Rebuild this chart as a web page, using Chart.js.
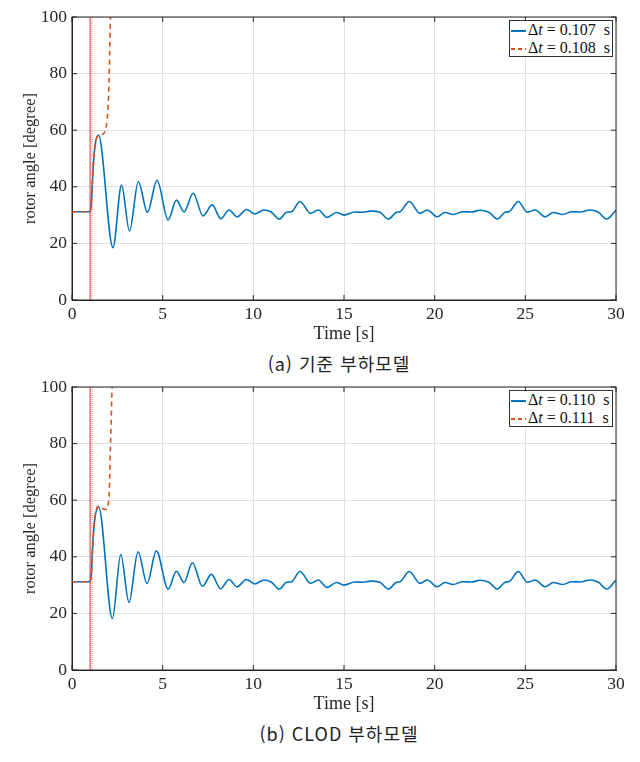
<!DOCTYPE html>
<html lang="ko">
<head>
    <meta charset="UTF-8">
    <title>rotor angle</title>
    <script src="https://cdn.jsdelivr.net/npm/chart.js"></script>
    <style>
        body { margin: 0; background: #fff; }
        .panel { position: absolute; left: 0; width: 640px; height: 345px; }
        .legend {
            position: absolute; left: 509px; top: 20px; width: 102px; height: 35px;
            border: 1px solid #333; background: #fff;
            font-family: 'Liberation Serif', 'Times New Roman', serif; font-size: 16px; color: #111;
        }
        .legend .row { height: 17.5px; line-height: 17.5px; white-space: nowrap; }
        .legend .swatch { display: inline-block; width: 15px; height: 0; margin: 0 2px 0 1px; vertical-align: middle; }
        .legend .solid { height: 2px; background: #0072BD; }
        .legend .dash { height: 2px; background: repeating-linear-gradient(90deg, #D95319 0 4px, transparent 4px 7px); }
        .caption {
            position: absolute; left: 0; width: 678px; text-align: center; letter-spacing: 1px;
            font-family: 'Noto Sans CJK KR', sans-serif; font-size: 18px; color: #222; line-height: 22px;
        }
    </style>
</head>
<body>
    <div class="panel" style="top:0">
        <canvas id="chartA" width="640" height="345"></canvas>
        <div class="legend">
            <div class="row"><span class="swatch solid"></span>&Delta;<i>t</i> = 0.107&nbsp; s</div>
            <div class="row"><span class="swatch dash"></span>&Delta;<i>t</i> = 0.108&nbsp; s</div>
        </div>
    </div>
    <div class="caption" style="top:352px">(a) 기준 부하모델</div>

    <div class="panel" style="top:370px">
        <canvas id="chartB" width="640" height="345"></canvas>
        <div class="legend">
            <div class="row"><span class="swatch solid"></span>&Delta;<i>t</i> = 0.110&nbsp; s</div>
            <div class="row"><span class="swatch dash"></span>&Delta;<i>t</i> = 0.111&nbsp; s</div>
        </div>
    </div>
    <div class="caption" style="top:722px">(b) CLOD 부하모델</div>

    <script>
        // axis ticks
        const xTicks = [0, 5, 10, 15, 20, 25, 30];
        const yTicks = [0, 20, 40, 60, 80, 100];

        // fault applied at 1 s, cleared after dt
        const faultA = [1.0, 1.107];
        const faultB = [1.0, 1.110];

        // (a) stable case, dt = 0.107 s
        const timeA1 = [0, 1.0, 1.07, 1.16, 1.27, 1.46, 2.26, 2.73, 3.17, 3.66, 4.16, 4.69, 5.30, 5.76, 6.18, 6.68,
            7.23, 7.73, 8.21, 8.66, 9.11, 9.62, 10.08, 10.58, 11.0, 11.43, 11.83, 12.11, 12.57, 13.16, 13.58,
            14.07, 14.59, 15.0, 15.6, 15.97, 16.47, 16.98, 17.44, 17.90, 18.09, 18.6, 19.19, 19.59, 20.14,
            20.57, 21.02, 21.54, 22.04, 22.5, 23.01, 23.46, 23.88, 24.12, 24.61, 25.11, 25.54, 26.09, 26.55,
            27.06, 27.56, 28.02, 28.57, 29.03, 29.49, 30.0];
        const angleA1 = [31.2, 31.2, 34.5, 46, 54.5, 58.3, 18.5, 40.6, 24.4, 41.8, 31.0, 42.3, 28.3, 35.3, 31.1, 37.7,
            29.7, 33.6, 28.7, 31.8, 29.4, 32.0, 30.4, 31.8, 31.0, 28.6, 31.0, 31.2, 34.8, 30.6, 31.8,
            29.2, 30.9, 30.0, 31.1, 31.0, 31.4, 31.0, 28.6, 31.0, 31.2, 34.8, 30.6, 31.8, 29.4,
            30.9, 30.2, 31.2, 31.1, 31.7, 30.9, 28.6, 31.0, 31.3, 34.8, 31.0, 31.8, 29.4, 30.9,
            30.2, 31.2, 31.1, 31.8, 31.0, 28.6, 31.8];

        // (a) unstable case, dt = 0.108 s
        const timeA2 = [0, 1.0, 1.07, 1.16, 1.27, 1.46, 1.68, 1.81, 1.90, 1.99, 2.04, 2.08, 2.12];
        const angleA2 = [31.2, 31.2, 34.5, 46, 54.5, 58.3, 58.5, 59.5, 61.8, 68.3, 76.6, 88.3, 100];

        // (b) stable case, dt = 0.110 s
        const timeB1 = [0, 1.0, 1.07, 1.16, 1.27, 1.47, 2.23, 2.69, 3.14, 3.64, 4.14, 4.65, 5.30, 5.76, 6.18, 6.64,
            7.19, 7.69, 8.19, 8.66, 9.10, 9.62, 10.08, 10.58, 11.0, 11.43, 11.83, 12.11, 12.57, 13.16, 13.58,
            14.07, 14.59, 15.0, 15.6, 15.97, 16.47, 16.98, 17.44, 17.90, 18.09, 18.6, 19.19, 19.59, 20.14,
            20.57, 21.02, 21.54, 22.04, 22.5, 23.01, 23.46, 23.88, 24.12, 24.61, 25.11, 25.54, 26.09, 26.55,
            27.06, 27.56, 28.02, 28.57, 29.03, 29.49, 30.0];
        const angleB1 = [31.2, 31.2, 34.5, 46, 54.0, 57.6, 18.2, 40.8, 23.9, 41.8, 30.6, 42.1, 28.6, 34.9, 30.9, 37.9,
            29.6, 33.8, 28.7, 32.0, 29.4, 32.0, 30.4, 31.8, 31.0, 28.6, 31.0, 31.2, 34.8, 30.6, 31.8,
            29.2, 30.9, 30.0, 31.1, 31.0, 31.4, 31.0, 28.6, 31.0, 31.2, 34.8, 30.6, 31.8, 29.4,
            30.9, 30.2, 31.2, 31.1, 31.7, 30.9, 28.6, 31.0, 31.3, 34.8, 31.0, 31.8, 29.4, 30.9,
            30.2, 31.2, 31.1, 31.8, 31.0, 28.6, 31.8];

        // (b) unstable case, dt = 0.111 s
        const timeB2 = [0, 1.0, 1.07, 1.16, 1.27, 1.46, 1.71, 1.88, 2.04, 2.12, 2.21];
        const angleB2 = [31.2, 31.2, 34.5, 46, 54.0, 57.9, 57.0, 56.7, 61.2, 78.8, 100];

        const serif = "'Liberation Serif', 'Times New Roman', serif";

        function toPoints(xs, ys) {
            return xs.map((x, i) => ({ x: x, y: ys[i] }));
        }

        function faultLine(t) {
            return [{ x: t, y: yTicks[0] }, { x: t, y: yTicks[yTicks.length - 1] }];
        }

        // matlab style box with inward ticks
        const boxPlugin = {
            id: 'box',
            afterDraw(chart) {
                const { ctx, chartArea: a, scales } = chart;
                ctx.save();
                ctx.strokeStyle = '#262626';
                ctx.lineWidth = 1;
                ctx.strokeRect(a.left, a.top, a.right - a.left, a.bottom - a.top);
                ctx.beginPath();
                xTicks.forEach(v => {
                    const px = scales.x.getPixelForValue(v);
                    ctx.moveTo(px, a.bottom); ctx.lineTo(px, a.bottom - 5);
                    ctx.moveTo(px, a.top); ctx.lineTo(px, a.top + 5);
                });
                yTicks.forEach(v => {
                    const py = scales.y.getPixelForValue(v);
                    ctx.moveTo(a.left, py); ctx.lineTo(a.left + 5, py);
                    ctx.moveTo(a.right, py); ctx.lineTo(a.right - 5, py);
                });
                ctx.stroke();
                ctx.restore();
            }
        };

        function makeChart(id, t1, y1, t2, y2, fault) {
            const ctx = document.getElementById(id).getContext('2d');
            return new Chart(ctx, {
                type: 'line',
                data: {
                    datasets: [{
                        data: toPoints(t1, y1),
                        borderColor: '#0072BD',
                        borderWidth: 1.6,
                        pointRadius: 0,
                        cubicInterpolationMode: 'monotone',
                        order: 3
                    }, {
                        data: toPoints(t2, y2),
                        borderColor: '#D95319',
                        borderWidth: 1.6,
                        borderDash: [5, 4],
                        pointRadius: 0,
                        cubicInterpolationMode: 'monotone',
                        order: 2
                    }, {
                        data: faultLine(fault[0]),
                        borderColor: 'rgba(220, 50, 50, 0.85)',
                        borderWidth: 1.2,
                        pointRadius: 0,
                        order: 1
                    }, {
                        data: faultLine(fault[1]),
                        borderColor: 'rgba(220, 80, 80, 0.7)',
                        borderWidth: 1,
                        borderDash: [1, 1],
                        pointRadius: 0,
                        order: 1
                    }]
                },
                options: {
                    responsive: false,
                    animation: false,
                    layout: { padding: { top: 17, right: 24, left: 0, bottom: 0 } },
                    plugins: {
                        legend: { display: false },
                        tooltip: { enabled: false }
                    },
                    scales: {
                        x: {
                            type: 'linear',
                            min: xTicks[0],
                            max: xTicks[xTicks.length - 1],
                            afterBuildTicks: s => { s.ticks = xTicks.map(v => ({ value: v })); },
                            afterFit: s => { s.height = 45; },
                            grid: { color: '#e0e0e0', drawTicks: false },
                            border: { color: '#262626' },
                            ticks: { padding: 4, color: '#262626', font: { family: serif, size: 17.5 }, maxRotation: 0 },
                            title: {
                                display: true,
                                text: 'Time [s]',
                                color: '#262626',
                                font: { family: serif, size: 18 },
                                padding: { top: 0, bottom: 0 }
                            }
                        },
                        y: {
                            min: yTicks[0],
                            max: yTicks[yTicks.length - 1],
                            afterBuildTicks: s => { s.ticks = yTicks.map(v => ({ value: v })); },
                            afterFit: s => { s.width = 72; },
                            grid: { color: '#e0e0e0', drawTicks: false },
                            border: { color: '#262626' },
                            ticks: { padding: 5, color: '#262626', font: { family: serif, size: 17.5 } },
                            title: {
                                display: true,
                                text: 'rotor angle [degree]',
                                color: '#262626',
                                font: { family: serif, size: 16.5 },
                                padding: { top: 21, bottom: 0 }
                            }
                        }
                    }
                },
                plugins: [boxPlugin]
            });
        }

        document.addEventListener("DOMContentLoaded", function () {
            makeChart('chartA', timeA1, angleA1, timeA2, angleA2, faultA);
            makeChart('chartB', timeB1, angleB1, timeB2, angleB2, faultB);
        });
    </script>
</body>
</html>
